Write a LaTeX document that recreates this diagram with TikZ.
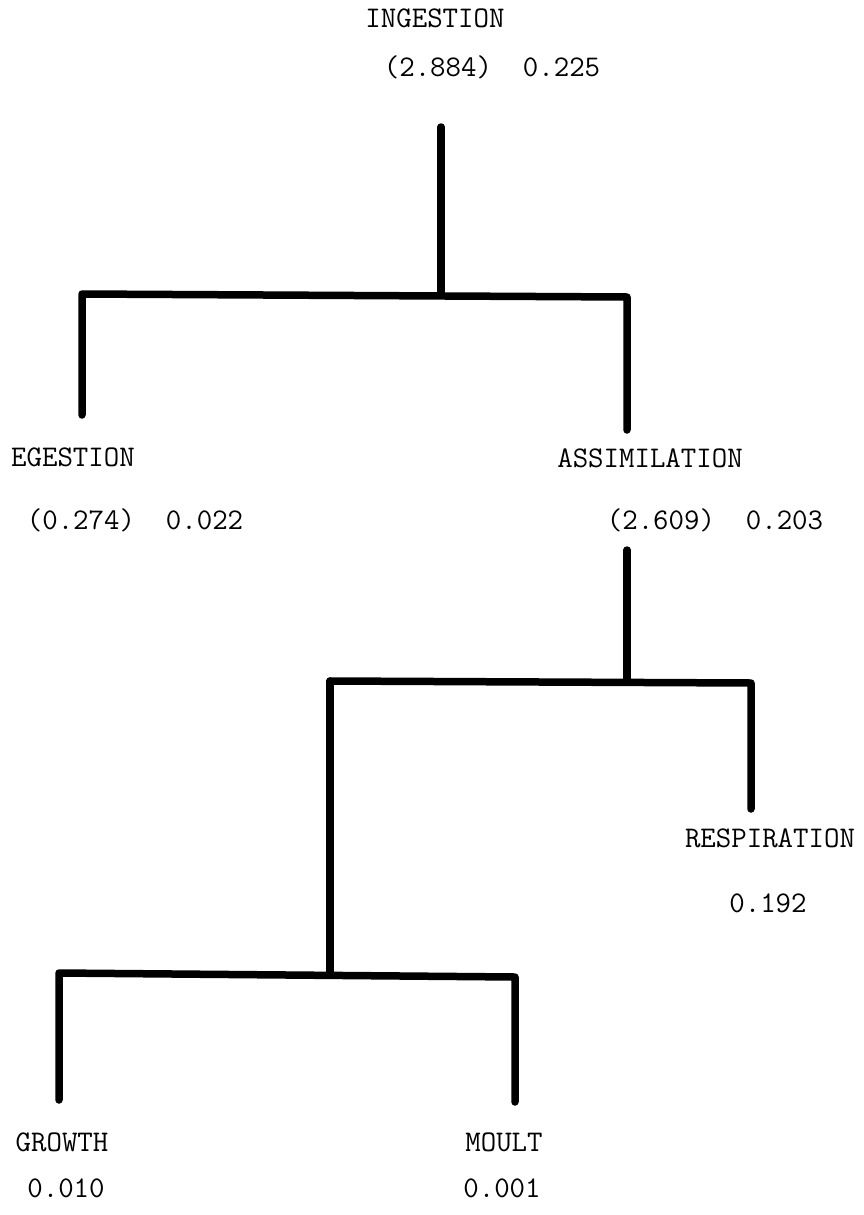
\documentclass[tikz,border=0pt]{standalone}
\begin{document}
\begin{tikzpicture}[x=1pt, y=-1pt,
		flowtext/.style={font=\fontsize{30}{36}\selectfont\ttfamily, inner sep=0pt, anchor=base},
		flowline/.style={line width=7.5pt, line cap=round, line join=round}]

		\useasboundingbox (0,0) rectangle (864,1215);

		% ================= Level 1: ingestion splits =================
		\node[flowtext] (ing) at (435,28) {INGESTION};
		\node[flowtext] (ingval) at (492,77) {(2.884)\ \ 0.225};

		\coordinate (ingtop) at (441,127);
		\coordinate (ingfork) at (441,295);
		\coordinate (egtop) at (82,294);
		\coordinate (egbot) at (82,415);
		\coordinate (astop) at (627,297);
		\coordinate (asbot) at (627,430);

		\draw[flowline] (ingtop) -- (ingfork);
		\draw[flowline] (egbot) -- (egtop) -- (astop) -- (asbot);

		\node[flowtext] (eg) at (73,466) {EGESTION};
		\node[flowtext] (egval) at (135,529) {(0.274)\ \ 0.022};
		\node[flowtext] (as) at (650,467) {ASSIMILATION};
		\node[flowtext] (asval) at (715,529) {(2.609)\ \ 0.203};

		% ================= Level 2: assimilation splits =================
		\coordinate (asstem) at (627,550);
		\coordinate (asfork) at (627,682);
		\coordinate (prodtop) at (330,681);
		\coordinate (resptop) at (751,683);
		\coordinate (respbot) at (751,809);

		\draw[flowline] (asstem) -- (asfork);
		\draw[flowline] (respbot) -- (resptop) -- (prodtop);

		\node[flowtext] (resp) at (770,847) {RESPIRATION};
		\node[flowtext] (respval) at (768,912) {0.192};

		% ================= Level 3: production splits =================
		\coordinate (prodfork) at (330,975);
		\coordinate (grtop) at (59,973);
		\coordinate (grbot) at (59,1100);
		\coordinate (mltop) at (515,977);
		\coordinate (mlbot) at (515,1102);

		\draw[flowline] (prodtop) -- (prodfork);
		\draw[flowline] (grbot) -- (grtop) -- (mltop) -- (mlbot);

		\node[flowtext] (gr) at (62,1151) {GROWTH};
		\node[flowtext] (grval) at (66,1197) {0.010};
		\node[flowtext] (ml) at (504,1151) {MOULT};
		\node[flowtext] (mlval) at (502,1197) {0.001};

	\end{tikzpicture}
\end{document}
